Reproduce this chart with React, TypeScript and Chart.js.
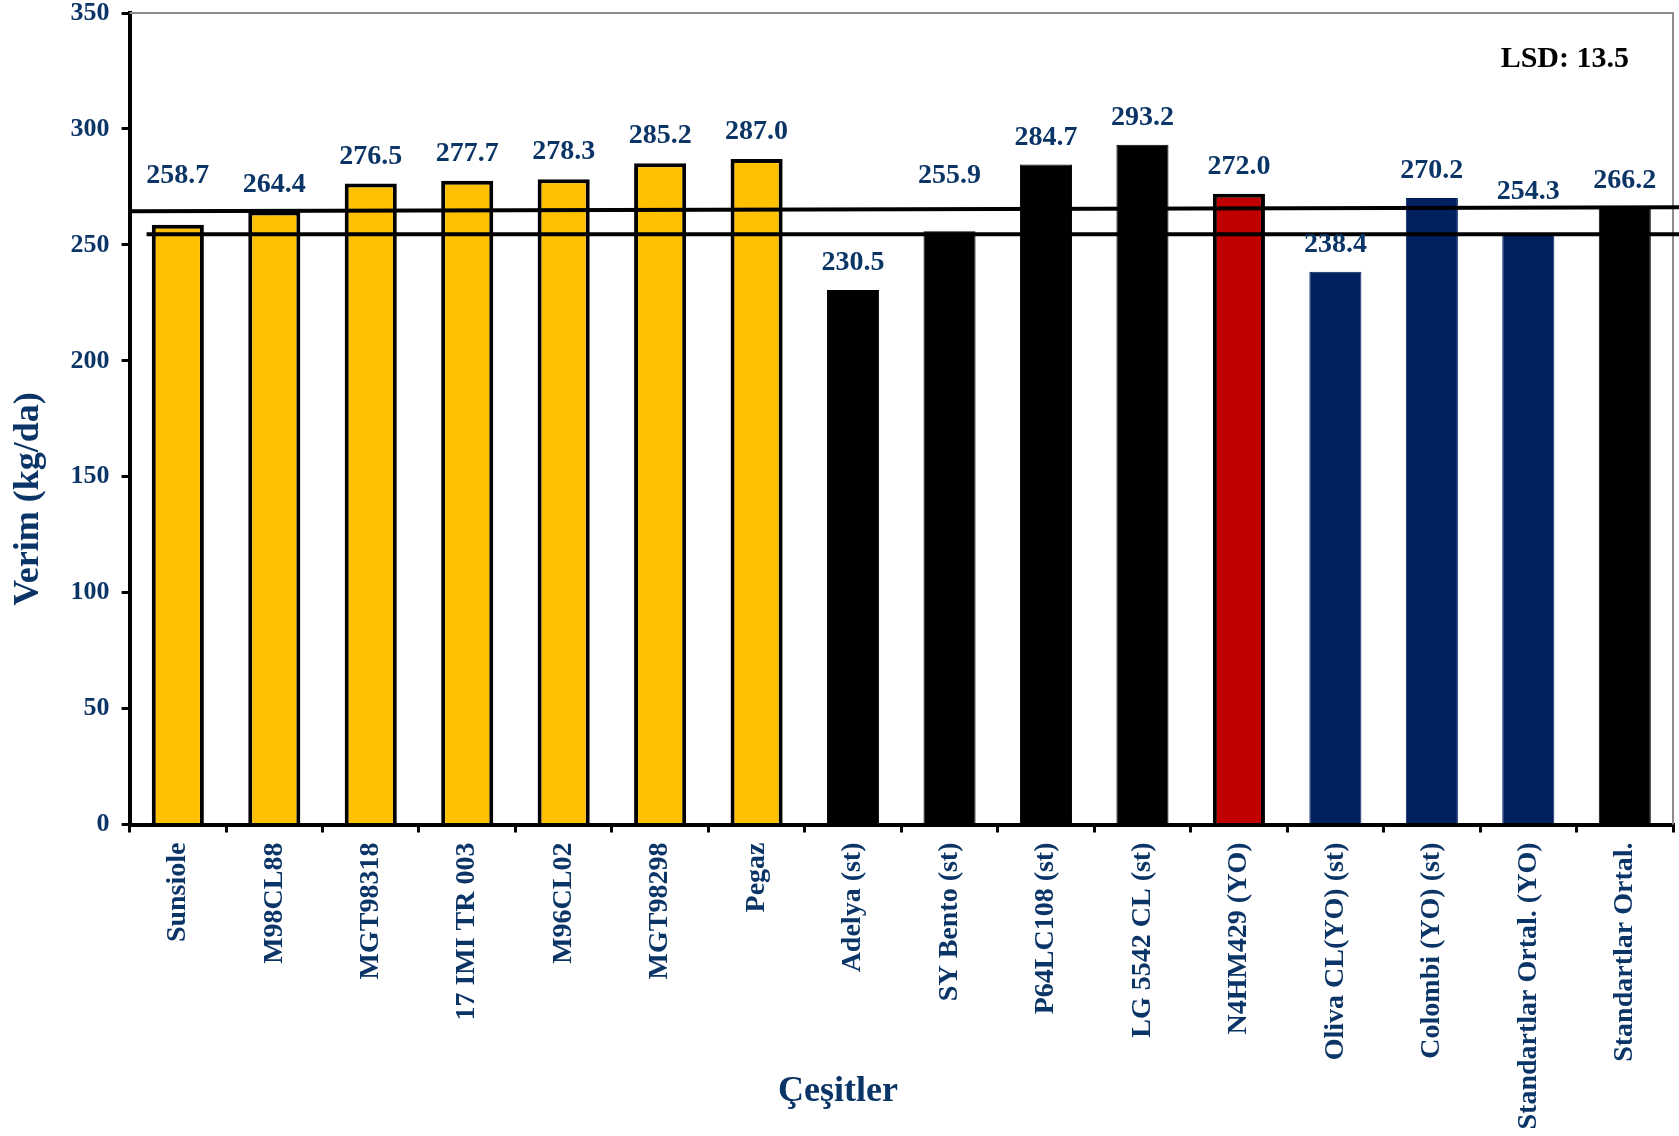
import React, { useEffect, useRef } from 'react';
import { Chart, registerables } from 'chart.js';

Chart.register(...registerables);

const categories = [
  'Sunsiole', 'M98CL88', 'MGT98318', '17 IMI TR 003', 'M96CL02', 'MGT98298', 'Pegaz',
  'Adelya (st)', 'SY Bento (st)', 'P64LC108 (st)', 'LG 5542 CL (st)', 'N4HM429 (YO)',
  'Oliva CL(YO) (st)', 'Colombi (YO) (st)', 'Standartlar Ortal. (YO)', 'Standartlar Ortal.',
];
const yieldValues = [258.7, 264.4, 276.5, 277.7, 278.3, 285.2, 287.0, 230.5, 255.9, 284.7, 293.2, 272.0, 238.4, 270.2, 254.3, 266.2];
const barGroups = ['new', 'new', 'new', 'new', 'new', 'new', 'new', 'st', 'st', 'st', 'st', 'yoNew', 'yoSt', 'yoSt', 'yoSt', 'st'];
const yTickValues = [0, 50, 100, 150, 200, 250, 300, 350];
const upperLine = [264.5, 266.2];
const lowerLine = [254.6, 254.6];
const lsdValue = 13.5;

const NAVY_TEXT = '#0b3567';
const FONT = '"Liberation Serif", "Times New Roman", serif';
const groupFill: Record<string, string> = { new: '#FFC000', st: '#000000', yoNew: '#C00000', yoSt: '#002060' };
const groupBorder: Record<string, string> = { new: '#000000', st: '#000000', yoNew: '#000000', yoSt: '#002060' };
const groupBorderWidth: Record<string, number> = { new: 4, st: 1, yoNew: 4, yoSt: 1 };
const labelLift: Record<number, number> = { 0: 49, 8: 55, 14: 43 };

const overlayPlugin = {
  id: 'overlay',
  afterDatasetsDraw(chart: any) {
    const { ctx, chartArea, scales } = chart;
    const y = scales.y;
    ctx.save();
    ctx.strokeStyle = '#8c8c8c';
    ctx.lineWidth = 2;
    ctx.beginPath();
    ctx.moveTo(chartArea.left, chartArea.top);
    ctx.lineTo(chartArea.right, chartArea.top);
    ctx.lineTo(chartArea.right, chartArea.bottom);
    ctx.stroke();
    ctx.strokeStyle = '#000';
    ctx.lineWidth = 4;
    ctx.beginPath();
    ctx.moveTo(chartArea.left, y.getPixelForValue(upperLine[0]));
    ctx.lineTo(chartArea.right + 6, y.getPixelForValue(upperLine[1]));
    ctx.stroke();
    ctx.beginPath();
    ctx.moveTo(chartArea.left + 17, y.getPixelForValue(lowerLine[0]));
    ctx.lineTo(chartArea.right + 6, y.getPixelForValue(lowerLine[1]));
    ctx.stroke();
    const meta = chart.getDatasetMeta(0);
    ctx.fillStyle = NAVY_TEXT;
    ctx.font = `bold 28px ${FONT}`;
    ctx.textAlign = 'center';
    ctx.textBaseline = 'middle';
    meta.data.forEach((bar: any, i: number) => {
      const lift = labelLift[i] ?? 27;
      ctx.fillText(yieldValues[i].toFixed(1), bar.x, bar.y - lift);
    });
    ctx.fillStyle = '#000';
    ctx.font = `bold 30px ${FONT}`;
    ctx.textAlign = 'right';
    ctx.fillText(`LSD: ${lsdValue}`, chartArea.right - 44, chartArea.top + 46);
    ctx.fillStyle = NAVY_TEXT;
    ctx.font = `bold 36px ${FONT}`;
    ctx.textAlign = 'center';
    ctx.fillText('Çeşitler', 838, 1092);
    ctx.save();
    ctx.translate(29, 499);
    ctx.rotate(-Math.PI / 2);
    ctx.fillText('Verim (kg/da)', 0, 0);
    ctx.restore();
    ctx.restore();
  },
};

export default function App() {
  const ref = useRef<HTMLCanvasElement | null>(null);
  useEffect(() => {
    if (!ref.current) return;
    const chart = new Chart(ref.current, {
      type: 'bar',
      data: {
        labels: categories,
        datasets: [
          {
            data: yieldValues,
            backgroundColor: barGroups.map((g) => groupFill[g]),
            borderColor: barGroups.map((g) => groupBorder[g]),
            borderWidth: barGroups.map((g) => groupBorderWidth[g]),
            categoryPercentage: 1,
            barPercentage: 0.54,
          },
        ],
      },
      options: {
        animation: false,
        responsive: true,
        maintainAspectRatio: false,
        layout: { padding: { top: 13, right: 6, left: 0, bottom: 0 } },
        plugins: { legend: { display: false }, tooltip: { enabled: false }, title: { display: false } },
        scales: {
          x: {
            type: 'category',
            grid: { display: true, drawOnChartArea: false, drawTicks: true, tickLength: 8, color: '#000', lineWidth: 3, offset: true },
            border: { display: true, color: '#000', width: 4 },
            ticks: {
              color: NAVY_TEXT,
              font: { family: FONT, size: 28, weight: 'bold' },
              maxRotation: 90,
              minRotation: 90,
              autoSkip: false,
              padding: 10,
            },
            afterFit: (s: any) => { s.height = 311.5; s.paddingLeft = 0; s.paddingRight = 0; },
          },
          y: {
            min: 0,
            max: 350,
            afterBuildTicks: (s: any) => { s.ticks = yTickValues.map((v) => ({ value: v })); },
            grid: { display: true, drawOnChartArea: false, drawTicks: true, tickLength: 8, color: '#000', lineWidth: 3 },
            border: { display: true, color: '#000', width: 4 },
            ticks: { color: NAVY_TEXT, font: { family: FONT, size: 26, weight: 'bold' }, padding: 12 },
            afterFit: (s: any) => { s.width = 129.6; s.paddingTop = 0; s.paddingBottom = 0; },
          },
        },
      } as any,
      plugins: [overlayPlugin],
    });
    return () => chart.destroy();
  }, []);
  return (
    <div style={{ position: 'fixed', left: 0, top: 0, width: 1679, height: 1136, background: '#fff' }}>
      <canvas ref={ref} />
    </div>
  );
}
